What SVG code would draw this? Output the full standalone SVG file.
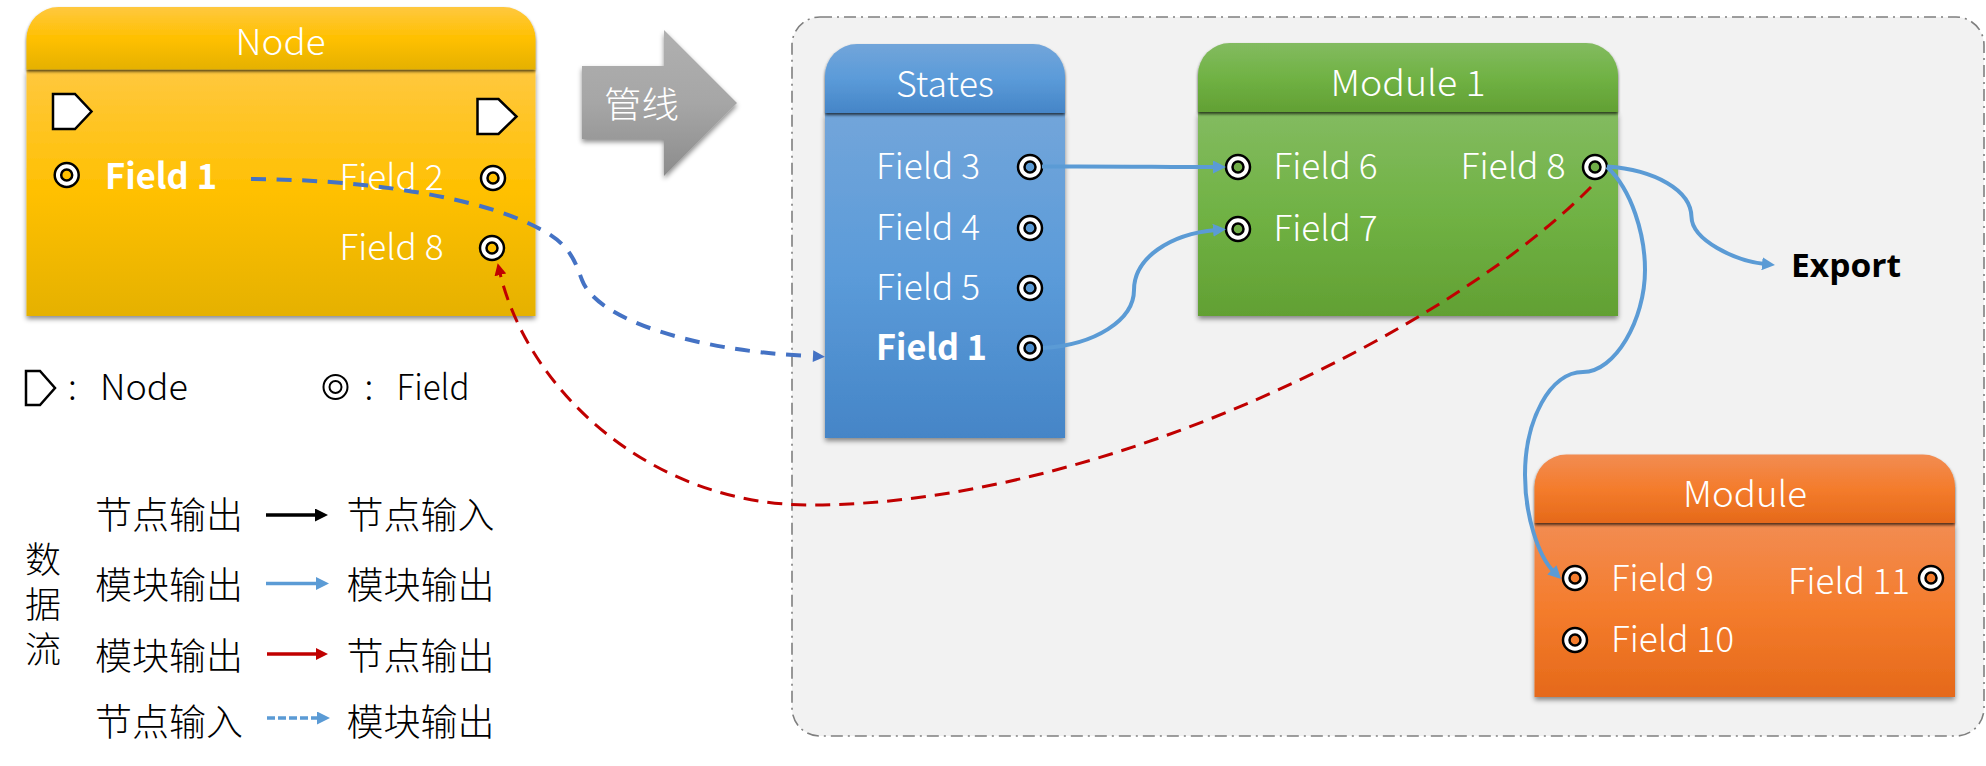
<svg xmlns="http://www.w3.org/2000/svg" width="1986" height="766" viewBox="0 0 1986 766">
<style>
text{font-family:"Noto Sans CJK SC","Noto Sans",sans-serif;font-weight:300}
.w{fill:#fff;font-size:35px}
.b{font-weight:700}
.k{fill:#000;font-size:35px}
.l{fill:#000;font-size:37px}
.s{font-size:35px}
.mid{text-anchor:middle}
.p{fill:#fff;stroke:#000;stroke-width:2.5}
.pi{stroke:#000;stroke-width:2.5}
.pent{fill:#fff;stroke:#000;stroke-width:2.5}
.flow{fill:none;stroke:#5b9bd5;stroke-width:4}
</style>
<defs>
<linearGradient id="gy" x1="0" y1="0" x2="0" y2="1"><stop offset="0" stop-color="#ffc83f"/><stop offset=".5" stop-color="#ffc000"/><stop offset="1" stop-color="#e5b100"/></linearGradient>
<linearGradient id="gb" x1="0" y1="0" x2="0" y2="1"><stop offset="0" stop-color="#72a5da"/><stop offset=".5" stop-color="#5b9bd9"/><stop offset="1" stop-color="#4585c7"/></linearGradient>
<linearGradient id="gg" x1="0" y1="0" x2="0" y2="1"><stop offset="0" stop-color="#83bb60"/><stop offset=".5" stop-color="#70b244"/><stop offset="1" stop-color="#62a033"/></linearGradient>
<linearGradient id="go" x1="0" y1="0" x2="0" y2="1"><stop offset="0" stop-color="#f28c52"/><stop offset=".5" stop-color="#f47c2c"/><stop offset="1" stop-color="#e5691a"/></linearGradient>
<linearGradient id="ga" x1="0" y1="0" x2="0" y2="1"><stop offset="0" stop-color="#b0b0b0"/><stop offset=".5" stop-color="#a6a6a6"/><stop offset="1" stop-color="#8c8c8c"/></linearGradient>
<filter id="sh" x="-5%" y="-5%" width="110%" height="115%"><feDropShadow dx="0" dy="3" stdDeviation="2.500" flood-color="#000" flood-opacity=".45"/></filter>
<filter id="hs" x="-5%" y="-5%" width="110%" height="125%"><feDropShadow dx="0" dy="2" stdDeviation="1.500" flood-color="#000" flood-opacity=".7"/></filter>
<marker id="ab" markerUnits="userSpaceOnUse" markerWidth="13" markerHeight="13" viewBox="0 0 13 13" refX="3" refY="6.500" orient="auto"><path d="M0 0L13 6.500L0 13z" fill="#5b9bd5"/></marker>
<marker id="ad" markerUnits="userSpaceOnUse" markerWidth="12" markerHeight="12" viewBox="0 0 12 12" refX="-12" refY="6" orient="auto" overflow="visible"><path d="M0 0L12 6L0 12z" fill="#4472c4"/></marker>
<marker id="ar" markerUnits="userSpaceOnUse" markerWidth="12" markerHeight="12" viewBox="0 0 12 12" refX="4" refY="6" orient="auto"><path d="M0 0L12 6L0 12z" fill="#c00000"/></marker>
<marker id="ak" markerUnits="userSpaceOnUse" markerWidth="13" markerHeight="13" viewBox="0 0 13 13" refX="4" refY="6.500" orient="auto"><path d="M0 0L13 6.500L0 13z" fill="#000"/></marker>
</defs>

<rect id="pipeline-area" x="792" y="17" width="1192" height="719" rx="28" fill="#f2f2f2" stroke="#7f7f7f" stroke-width="1.600" stroke-dasharray="12 5 2 5"/>

<g id="node">
<rect x="26.500" y="69.500" width="509" height="246.500" fill="url(#gy)" filter="url(#sh)"/>
<path d="M26.500 69.500V39A32 32 0 0 1 58.500 7H503.500A32 32 0 0 1 535.500 39V69.500z" fill="url(#gy)" filter="url(#hs)"/>
<text class="w mid" x="280.500" y="55" textLength="90" lengthAdjust="spacingAndGlyphs">Node</text>
<path class="pent" d="M53 94H75L91.500 111.500L75 129H53z"/>
<path class="pent" d="M477.500 99H498.500L516.500 116.500L498.500 134H477.500z"/>
<circle class="p" cx="66.700" cy="175" r="12"/><circle class="pi" cx="66.700" cy="175" r="5.500" fill="#ffc000"/>
<circle class="p" cx="493" cy="178" r="12"/><circle class="pi" cx="493" cy="178" r="5.500" fill="#ffc000"/>
<circle class="p" cx="492" cy="248" r="12"/><circle class="pi" cx="492" cy="248" r="5.500" fill="#ffc000"/>
<text class="w b" x="105" y="189" textLength="112" lengthAdjust="spacingAndGlyphs">Field 1</text>
<text class="w" x="339.500" y="190" textLength="104" lengthAdjust="spacingAndGlyphs">Field 2</text>
<text class="w" x="339.500" y="260" textLength="104" lengthAdjust="spacingAndGlyphs">Field 8</text>
</g>

<g id="pipe-arrow">
<path d="M582 66H664V30L737 103L664 176V139H582z" fill="url(#ga)" filter="url(#sh)"/>
<text class="w" x="604" y="118" style="font-size:36px" textLength="75" lengthAdjust="spacingAndGlyphs">管线</text>
</g>

<g id="states">
<rect x="825" y="113" width="240" height="325" fill="url(#gb)" filter="url(#sh)"/>
<path d="M825 113V76A32 32 0 0 1 857 44H1033A32 32 0 0 1 1065 76V113z" fill="url(#gb)" filter="url(#hs)"/>
<text class="w mid" x="945" y="97" textLength="98" lengthAdjust="spacingAndGlyphs">States</text>
<text class="w" x="876" y="179" textLength="104" lengthAdjust="spacingAndGlyphs">Field 3</text>
<text class="w" x="876" y="240" textLength="104" lengthAdjust="spacingAndGlyphs">Field 4</text>
<text class="w" x="876" y="300" textLength="104" lengthAdjust="spacingAndGlyphs">Field 5</text>
<text class="w b" x="876" y="360" textLength="111" lengthAdjust="spacingAndGlyphs">Field 1</text>
<circle class="p" cx="1030" cy="167" r="12"/><circle class="pi" cx="1030" cy="167" r="5.500" fill="#5b9bd5"/>
<circle class="p" cx="1030" cy="228" r="12"/><circle class="pi" cx="1030" cy="228" r="5.500" fill="#5b9bd5"/>
<circle class="p" cx="1030" cy="288" r="12"/><circle class="pi" cx="1030" cy="288" r="5.500" fill="#5b9bd5"/>
<circle class="p" cx="1030" cy="348" r="12"/><circle class="pi" cx="1030" cy="348" r="5.500" fill="#4a8ccb"/>
</g>

<g id="module-1">
<rect x="1198" y="112" width="420" height="204" fill="url(#gg)" filter="url(#sh)"/>
<path d="M1198 112V75A32 32 0 0 1 1230 43H1586A32 32 0 0 1 1618 75V112z" fill="url(#gg)" filter="url(#hs)"/>
<text class="w mid" x="1408" y="96" textLength="155" lengthAdjust="spacingAndGlyphs">Module 1</text>
<text class="w" x="1273.500" y="179" textLength="104" lengthAdjust="spacingAndGlyphs">Field 6</text>
<text class="w" x="1273.500" y="241" textLength="104" lengthAdjust="spacingAndGlyphs">Field 7</text>
<text class="w" x="1460.500" y="179" textLength="105" lengthAdjust="spacingAndGlyphs">Field 8</text>
<circle class="p" cx="1238" cy="167" r="12"/><circle class="pi" cx="1238" cy="167" r="5.500" fill="#70ad47"/>
<circle class="p" cx="1238" cy="229" r="12"/><circle class="pi" cx="1238" cy="229" r="5.500" fill="#70ad47"/>
<circle class="p" cx="1595" cy="167" r="12"/><circle class="pi" cx="1595" cy="167" r="5.500" fill="#70ad47"/>
</g>

<g id="module">
<rect x="1534.500" y="523" width="420.500" height="174" fill="url(#go)" filter="url(#sh)"/>
<path d="M1534.500 523V486.500A32 32 0 0 1 1566.500 454.500H1923A32 32 0 0 1 1955 486.500V523z" fill="url(#go)" filter="url(#hs)"/>
<text class="w mid" x="1745" y="506.500" textLength="124" lengthAdjust="spacingAndGlyphs">Module</text>
<text class="w" x="1611" y="591" textLength="103" lengthAdjust="spacingAndGlyphs">Field 9</text>
<text class="w" x="1611" y="652" textLength="123" lengthAdjust="spacingAndGlyphs">Field 10</text>
<text class="w" x="1788" y="593.500" textLength="122" lengthAdjust="spacingAndGlyphs">Field 11</text>
<circle class="p" cx="1575" cy="578" r="12"/><circle class="pi" cx="1575" cy="578" r="5.500" fill="#f47c2c"/>
<circle class="p" cx="1575" cy="640" r="12"/><circle class="pi" cx="1575" cy="640" r="5.500" fill="#f47c2c"/>
<circle class="p" cx="1931" cy="578" r="12"/><circle class="pi" cx="1931" cy="578" r="5.500" fill="#f47c2c"/>
</g>

<g id="export">
<text x="1791" y="277" style="font-family:'Open Sans','Noto Sans',sans-serif;font-weight:700;font-size:32px;fill:#000" textLength="110" lengthAdjust="spacingAndGlyphs">Export</text>
</g>

<g id="connectors">
<path class="flow" d="M1042 166.500C1110 166 1160 167 1216 167" marker-end="url(#ab)"/>
<path class="flow" d="M1043 348C1095 345 1134 320 1134 290C1134 258 1170 234 1216 230" marker-end="url(#ab)"/>
<path class="flow" d="M1607 166.500C1655 170 1691 190 1691.500 217C1692 240 1735 261 1765 264" marker-end="url(#ab)"/>
<path class="flow" d="M1607 167C1632 190 1645 235 1645 270C1645 320 1615 372 1583 372C1550 372 1525 420 1525 475C1525 515 1538 556 1554 572" marker-end="url(#ab)"/>
<path d="M251 179C398 180 497 205 540 229C572 245 576 265 582 280C597 320 695 350 801 355.500" pathLength="648.500" fill="none" stroke="#4472c4" stroke-width="4" stroke-dasharray="16 11.500" marker-end="url(#ad)"/>
<path d="M1591 187C1450 330 1100 505 810 505C650 505 527 390 499.500 271" fill="none" stroke="#c00000" stroke-width="3" stroke-dasharray="15 9" marker-end="url(#ar)"/>
</g>

<g id="legend-symbols">
<path class="pent" d="M26 371H40L55 388L40 405H26z"/>
<text class="l s" x="68" y="400">:</text>
<text class="l s" x="100" y="400" textLength="88" lengthAdjust="spacingAndGlyphs">Node</text>
<circle cx="335.500" cy="387" r="12" fill="#fff" stroke="#000" stroke-width="2"/><circle cx="335.500" cy="387" r="6" fill="#fff" stroke="#000" stroke-width="2"/>
<text class="l s" x="364.500" y="400">:</text>
<text class="l s" x="396.500" y="400" textLength="73" lengthAdjust="spacingAndGlyphs">Field</text>
</g>

<g id="legend-flow">
<text class="l" x="43" y="541" style="writing-mode:vertical-rl;font-size:36px" letter-spacing="9">数据流</text>
<text class="l" x="95" y="529">节点输出</text>
<text class="l" x="346.500" y="529">节点输入</text>
<text class="l" x="95" y="599">模块输出</text>
<text class="l" x="346.500" y="599">模块输出</text>
<text class="l" x="95" y="670">模块输出</text>
<text class="l" x="346.500" y="670">节点输出</text>
<text class="l" x="95" y="736">节点输入</text>
<text class="l" x="346.500" y="736">模块输出</text>
<path d="M266 515H319" fill="none" stroke="#000" stroke-width="3.500" marker-end="url(#ak)"/>
<path d="M266 583.500H319" fill="none" stroke="#5b9bd5" stroke-width="3.500" marker-end="url(#ab)"/>
<path d="M267 654H320" fill="none" stroke="#c00000" stroke-width="3.500" marker-end="url(#ar)"/>
<path d="M267 718H320" fill="none" stroke="#5b9bd5" stroke-width="3.500" stroke-dasharray="8 3" marker-end="url(#ab)"/>
</g>
</svg>
